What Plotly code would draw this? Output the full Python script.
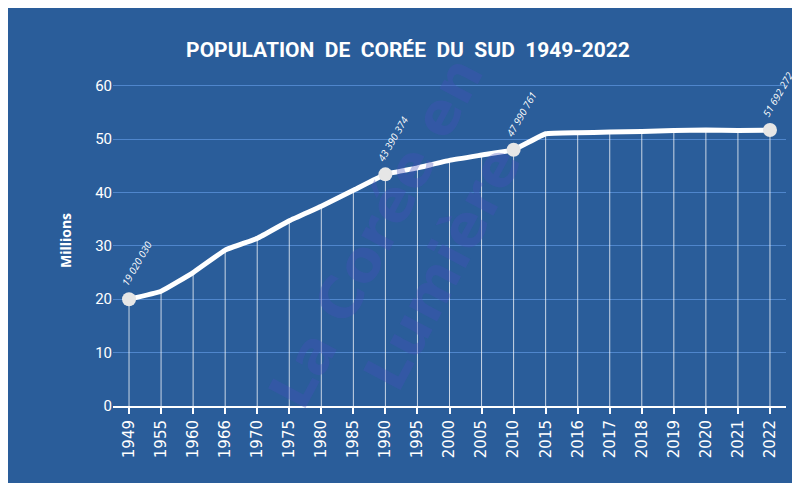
import plotly.graph_objects as go

years = ["1949", "1955", "1960", "1966", "1970", "1975", "1980", "1985", "1990", "1995", "2000",
         "2005", "2010", "2015", "2016", "2017", "2018", "2019", "2020", "2021", "2022"]
pop_millions = [20.0, 21.5, 25.0, 29.2, 31.4, 34.7, 37.4, 40.4, 43.39, 44.6, 46.0,
                47.0, 47.99, 51.0, 51.2, 51.3, 51.4, 51.6, 51.7, 51.6, 51.69]
labelled = {"1949": "19 020 030", "1990": "43 390 374", "2010": "47 990 761", "2022": "51 692 272"}

bg = "#2a5d9a"
idx = list(range(len(years)))

# vertical drop lines from each point to zero
dx, dy = [], []
for i, y in zip(idx, pop_millions):
    dx += [i, i, None]
    dy += [0, y, None]

fig = go.Figure()
fig.add_annotation(x=0.44, y=0.47, xref="paper", yref="paper", text="<b>La Corée en<br>Lumière</b>",
                   textangle=-62, showarrow=False,
                   font=dict(size=58, color="rgba(70,80,185,0.35)", family="DejaVu Sans"))
fig.add_trace(go.Scatter(x=dx, y=dy, mode="lines", line=dict(color="rgba(255,255,255,0.75)", width=1),
                         hoverinfo="skip"))
fig.add_trace(go.Scatter(x=idx, y=pop_millions, mode="lines",
                         line=dict(color="white", width=5, shape="spline", smoothing=0.3)))
ki = [years.index(k) for k in labelled]
ky = [pop_millions[i] for i in ki]
fig.add_trace(go.Scatter(x=ki, y=ky, mode="markers", marker=dict(color="#e6e6e6", size=14)))
for i, y, k in zip(ki, ky, labelled):
    fig.add_annotation(x=i, y=y, text="<i>" + labelled[k] + "</i>", textangle=-60, showarrow=False,
                       xanchor="center", yanchor="bottom", xshift=8, yshift=8,
                       font=dict(color="white", size=10, family="Open Sans"))

fig.update_layout(
    width=800, height=483, paper_bgcolor=bg, plot_bgcolor=bg, showlegend=False,
    margin=dict(l=105, r=22, t=67, b=85),
    title=dict(text="<b>POPULATION  DE  CORÉE  DU  SUD  1949-2022</b>",
               x=0.5, y=0.93, xanchor="center",
               font=dict(color="white", size=21, family="Roboto")),
    xaxis=dict(range=[-0.5, len(years) - 0.5], tickvals=idx, ticktext=years, tickangle=-90,
               tickfont=dict(color="white", size=15, family="DejaVu Sans"),
               showgrid=False, zeroline=False, showline=True, linecolor="white", linewidth=2, ticks="outside",
               tickcolor="white", ticklen=6, tickwidth=2),
    yaxis=dict(range=[0, 62], tickvals=[0, 10, 20, 30, 40, 50, 60], gridcolor="#4f86cc",
               tickfont=dict(color="white", size=15, family="Roboto"), zeroline=False,
               title=dict(text="<b>Millions</b>", font=dict(color="white", size=14, family="Open Sans"), standoff=20)),
)
fig.write_html("out.html")
